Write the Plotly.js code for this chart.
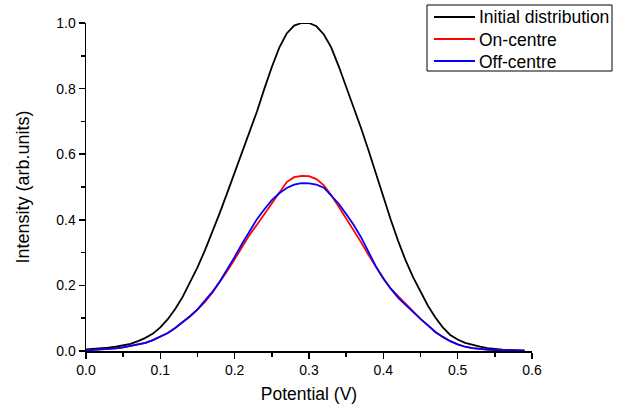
<!DOCTYPE html>
<html>
<head>
<meta charset="utf-8">
<script src="https://cdn.plot.ly/plotly-3.0.1.min.js"></script>
<style>html,body{margin:0;padding:0;background:#fff;}#chart{width:619px;height:405px;}</style>
</head>
<body>
<div id="chart"></div>
<script>
const potential = [0.00,0.01,0.02,0.03,0.04,0.05,0.06,0.07,0.08,0.09,
  0.10,0.11,0.12,0.13,0.14,0.15,0.16,0.17,0.18,0.19,
  0.20,0.21,0.22,0.23,0.24,0.25,0.26,0.27,0.28,0.29,
  0.30,0.31,0.32,0.33,0.34,0.35,0.36,0.37,0.38,0.39,
  0.40,0.41,0.42,0.43,0.44,0.45,0.46,0.47,0.48,0.49,
  0.50,0.51,0.52,0.53,0.54,0.55,0.56,0.57,0.58,0.59];

const initialDist = [0.005,0.006,0.008,0.010,0.013,0.017,0.022,0.030,0.040,0.053,
  0.072,0.097,0.128,0.165,0.208,0.255,0.307,0.362,0.421,0.482,
  0.545,0.607,0.668,0.730,0.800,0.866,0.925,0.968,0.992,1.000,
  1.000,0.990,0.965,0.925,0.868,0.805,0.745,0.680,0.612,0.540,
  0.470,0.400,0.335,0.276,0.225,0.180,0.138,0.102,0.072,0.049,
  0.035,0.025,0.018,0.013,0.009,0.006,0.004,0.003,0.002,0.001];

const onCentre = [0.002,0.003,0.004,0.006,0.008,0.011,0.015,0.019,0.025,0.033,
  0.043,0.055,0.070,0.087,0.106,0.126,0.150,0.178,0.210,0.244,
  0.280,0.318,0.354,0.385,0.418,0.452,0.482,0.515,0.530,0.534,
  0.533,0.524,0.505,0.475,0.440,0.405,0.370,0.332,0.293,0.255,
  0.220,0.190,0.167,0.142,0.118,0.098,0.078,0.058,0.043,0.030,
  0.020,0.013,0.009,0.006,0.004,0.003,0.002,0.002,0.001,0.001];

const offCentre = [0.002,0.003,0.004,0.006,0.008,0.011,0.015,0.019,0.025,0.033,
  0.043,0.055,0.070,0.087,0.106,0.127,0.152,0.180,0.212,0.248,
  0.287,0.327,0.366,0.402,0.432,0.460,0.481,0.497,0.507,0.512,
  0.511,0.507,0.498,0.475,0.449,0.418,0.385,0.347,0.302,0.258,
  0.222,0.190,0.162,0.140,0.118,0.098,0.078,0.058,0.043,0.030,
  0.020,0.013,0.009,0.006,0.004,0.003,0.002,0.002,0.001,0.001];

const seriesNames = ['Initial distribution','On-centre','Off-centre'];
const seriesColors = ['#000000','#ff0000','#0000ff'];
const seriesValues = [initialDist, onCentre, offCentre];

const FONT = 'Arial, "Liberation Sans", sans-serif';

const traces = seriesValues.map((vals, i) => ({
  x: potential, y: vals, type: 'scatter', mode: 'lines',
  name: seriesNames[i],
  line: {color: seriesColors[i], width: 1.8},
  showlegend: false
}));

// plot-area geometry (pixels) used to place the boxed legend
const W = 619, H = 405, ML = 86, MR = 87, MT = 23, MB = 54;
const pw = W - ML - MR, ph = H - MT - MB;
const px = v => (v - ML) / pw;
const py = v => (H - MB - v) / ph;

const legBox = {l: 427, r: 612, t: 5, b: 71};
const legRows = [17, 39, 61];
const shapes = [{
  type: 'rect', xref: 'paper', yref: 'paper',
  x0: px(legBox.l), x1: px(legBox.r), y0: py(legBox.b), y1: py(legBox.t),
  line: {color: '#000', width: 1}, fillcolor: '#fff', layer: 'above'
}];
const annotations = [];
seriesNames.forEach((nm, i) => {
  shapes.push({
    type: 'line', xref: 'paper', yref: 'paper',
    x0: px(434), x1: px(475), y0: py(legRows[i]), y1: py(legRows[i]),
    line: {color: seriesColors[i], width: 1.8}, layer: 'above'
  });
  annotations.push({
    xref: 'paper', yref: 'paper', x: px(477), y: py(legRows[i] + 0.5),
    xanchor: 'left', yanchor: 'middle', showarrow: false, text: nm,
    font: {family: FONT, size: 17.5, color: '#000'}
  });
});

const axisCommon = {
  showgrid: false, zeroline: false, showline: true, linecolor: '#000', linewidth: 1.5,
  ticks: 'outside', ticklen: 6, tickwidth: 1.5, tickcolor: '#000',
  tickfont: {family: FONT, size: 14, color: '#000'},
  mirror: false
};

const layout = {
  width: W, height: H,
  margin: {l: ML, r: MR, t: MT, b: MB},
  paper_bgcolor: '#fff', plot_bgcolor: '#fff',
  font: {family: FONT, color: '#000'},
  showlegend: false,
  xaxis: Object.assign({}, axisCommon, {
    range: [0, 0.6], dtick: 0.1, tick0: 0, tickformat: '.1f',
    minor: {dtick: 0.05, ticks: 'outside', ticklen: 4, tickwidth: 1.5, tickcolor: '#000'},
    title: {text: 'Potential (V)', font: {family: FONT, size: 17.5, color: '#000'}, standoff: 10}
  }),
  yaxis: Object.assign({}, axisCommon, {
    range: [0, 1.0], dtick: 0.2, tick0: 0, tickformat: '.1f',
    minor: {dtick: 0.1, ticks: 'outside', ticklen: 4, tickwidth: 1.5, tickcolor: '#000'},
    title: {text: 'Intensity (arb.units)', font: {family: FONT, size: 18, color: '#000'}, standoff: 22}
  }),
  shapes: shapes,
  annotations: annotations
};

Plotly.newPlot('chart', traces, layout, {displayModeBar: false, staticPlot: true});
</script>
</body>
</html>
